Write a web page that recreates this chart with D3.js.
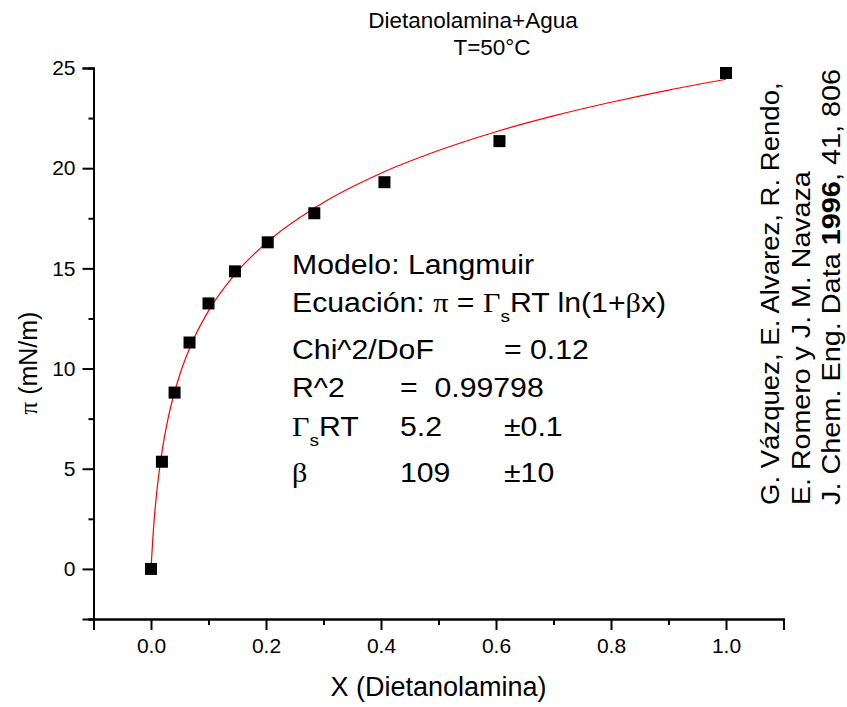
<!DOCTYPE html>
<html>
<head>
<meta charset="utf-8">
<script src="https://cdn.jsdelivr.net/npm/d3@7"></script>
<style>
  body { margin: 0; background: #fff; }
  svg { display: block; font-family: Arial, "Liberation Sans", sans-serif; }
  .greek { font-family: "Times New Roman", "Liberation Serif", serif; }
</style>
</head>
<body>
<div id="wrapper"></div>
<script>
// data
const xValues = [0, 0.019, 0.041, 0.067, 0.1, 0.146, 0.203, 0.284, 0.406, 0.606, 1.0]
const piValues = [0, 5.35, 8.8, 11.3, 13.25, 14.85, 16.3, 17.75, 19.3, 21.35, 24.75]

// fitted Langmuir curve (red line)
const fitX = [0, 0.005, 0.01, 0.02, 0.03, 0.05, 0.075, 0.1, 0.15, 0.2, 0.3, 0.4, 0.5, 0.6, 0.7, 0.8, 0.9, 1.0]
const fitPi = [0, 2.26, 3.83, 6.02, 7.55, 9.69, 11.53, 12.88, 14.84, 16.26, 18.29, 19.75, 20.88, 21.82, 22.61, 23.29, 23.9, 24.44]

const xTicks = [0, 0.2, 0.4, 0.6, 0.8, 1.0]
const xMinorTicks = [-0.1, 0.1, 0.3, 0.5, 0.7, 0.9, 1.1]
const yTicks = [0, 5, 10, 15, 20, 25]
const yMinorTicks = [-2.5, 2.5, 7.5, 12.5, 17.5, 22.5]

const titleLines = ["Dietanolamina+Agua", "T=50°C"]
const citation = [
  ["G. Vázquez, E. Alvarez, R. Rendo,"],
  ["E. Romero y J. M. Navaza"],
  ["J. Chem. Eng. Data ", "1996", ", 41, 806"]
]

const drawChart = () => {
  const dimensions = {
    width: 847,
    height: 707,
    left: 93.5,
    right: 783.5,
    top: 68,
    bottom: 619,
  }

  const svg = d3
    .select("#wrapper")
    .append("svg")
    .attr("width", dimensions.width)
    .attr("height", dimensions.height)

  const xScale = d3.scaleLinear().domain([-0.1, 1.1]).range([dimensions.left, dimensions.right])
  const yScale = d3.scaleLinear().domain([-2.5, 25]).range([dimensions.bottom, dimensions.top])

  // axes
  svg
    .append("g")
    .attr("transform", `translate(0, ${dimensions.bottom})`)
    .call(d3.axisBottom(xScale).tickValues(xTicks).tickSize(11).tickPadding(8).tickFormat(d3.format(".1f")))
  svg
    .append("g")
    .attr("transform", `translate(0, ${dimensions.bottom})`)
    .call(d3.axisBottom(xScale).tickValues(xMinorTicks).tickSize(6).tickFormat(""))

  svg
    .append("g")
    .attr("transform", `translate(${dimensions.left}, 0)`)
    .call(d3.axisLeft(yScale).tickValues(yTicks).tickSize(11).tickPadding(7).tickFormat(d3.format("d")))
  svg
    .append("g")
    .attr("transform", `translate(${dimensions.left}, 0)`)
    .call(d3.axisLeft(yScale).tickValues(yMinorTicks).tickSize(5).tickFormat(""))

  svg.selectAll(".domain").attr("stroke", "#000").attr("stroke-width", 2)
  svg.selectAll(".tick line").attr("stroke", "#000").attr("stroke-width", 2)
  svg.selectAll(".tick text")
    .attr("fill", "#000")
    .style("font-size", "21px")
    .style("font-family", "Arial, 'Liberation Sans', sans-serif")

  // fit line
  const line = d3
    .line()
    .x((d, i) => xScale(fitX[i]))
    .y((d) => yScale(d))
    .curve(d3.curveMonotoneX)

  svg
    .append("path")
    .attr("d", line(fitPi))
    .attr("fill", "none")
    .attr("stroke", "#ff0000")
    .attr("stroke-width", 1.2)

  // data points
  const size = 12
  svg
    .selectAll(".point")
    .data(piValues)
    .join("rect")
    .attr("class", "point")
    .attr("x", (d, i) => xScale(xValues[i]) - size / 2)
    .attr("y", (d) => yScale(d) - size / 2)
    .attr("width", size)
    .attr("height", size)
    .attr("fill", "#000")

  // title
  svg.append("text").attr("x", 473).attr("y", 28).attr("text-anchor", "middle")
    .style("font-size", "22.5px").text(titleLines[0])
  svg.append("text").attr("x", 492).attr("y", 55).attr("text-anchor", "middle")
    .style("font-size", "22.5px").text(titleLines[1])

  // axis labels
  svg.append("text").attr("x", 438.5).attr("y", 696).attr("text-anchor", "middle")
    .style("font-size", "27px").text("X (Dietanolamina)")

  const yLabel = svg.append("text")
    .attr("transform", "translate(37, 363) rotate(-90)")
    .attr("text-anchor", "middle")
    .style("font-size", "25px")
  yLabel.append("tspan").attr("class", "greek").text("π")
  yLabel.append("tspan").text(" (mN/m)")

  // annotation block (the original lettering is a little wider than Arial)
  const fs = "27px"
  const stretch = 1.12
  const col1 = 292, col2 = 400, col3 = 504
  const addText = (x, y) =>
    svg.append("text")
      .attr("transform", `translate(${x}, ${y}) scale(${stretch}, 1)`)
      .style("font-size", fs)
      .style("white-space", "pre")

  addText(col1, 274).text("Modelo: Langmuir")

  const eq = addText(col1, 312)
  eq.append("tspan").text("Ecuación: ")
  eq.append("tspan").attr("class", "greek").text("π")
  eq.append("tspan").text(" = ")
  eq.append("tspan").attr("class", "greek").text("Γ")
  eq.append("tspan").attr("dy", 10).style("font-size", "17px").text("s")
  eq.append("tspan").attr("dy", -10).text("RT ln(1+")
  eq.append("tspan").attr("class", "greek").text("β")
  eq.append("tspan").text("x)")

  addText(col1, 359).text("Chi^2/DoF")
  addText(col3, 359).text("= 0.12")

  addText(col1, 397).text("R^2")
  addText(col2, 397).text("=  0.99798")

  const g = addText(col1, 436)
  g.append("tspan").attr("class", "greek").text("Γ")
  g.append("tspan").attr("dy", 10).style("font-size", "17px").text("s")
  g.append("tspan").attr("dy", -10).text("RT")
  addText(col2, 436).text("5.2")
  addText(col3, 436).text("±0.1")

  addText(col1, 482).attr("class", "greek").text("β")
  addText(col2, 482).text("109")
  addText(col3, 482).text("±10")

  // citation, rotated
  const citeX = [779, 810, 840]
  const citeStretch = [1.06, 1.1, 1.11]
  citation.forEach((parts, i) => {
    const t = svg.append("text")
      .attr("transform", `translate(${citeX[i]}, 505) rotate(-90) scale(${citeStretch[i]}, 1)`)
      .style("font-size", "26px")
    parts.forEach((p) => {
      t.append("tspan").style("font-weight", p === "1996" ? "bold" : "normal").text(p)
    })
  })
}

drawChart()
</script>
</body>
</html>
